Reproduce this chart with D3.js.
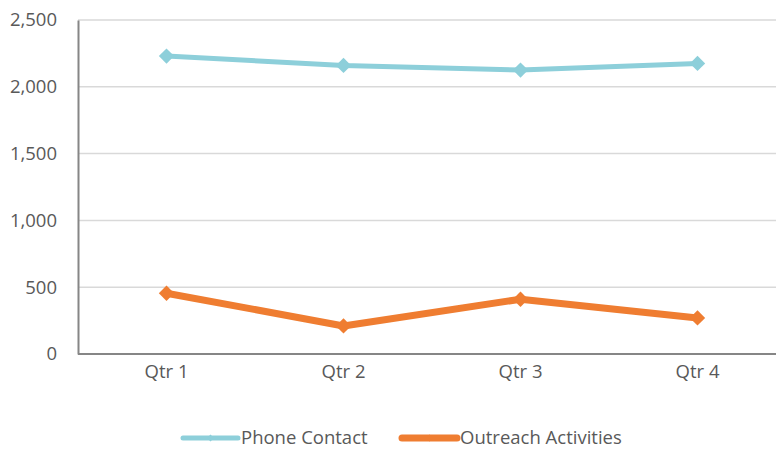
<!DOCTYPE html>
<html>
<head>
<meta charset="utf-8">
<script src="https://cdn.jsdelivr.net/npm/d3@7"></script>
<style>
  body { margin: 0; background: #fff; }
  svg { font-family: "Open Sans", sans-serif; }
</style>
</head>
<body>
<svg width="776" height="449"></svg>
<script>
// chart data
const quarters = ["Qtr 1", "Qtr 2", "Qtr 3", "Qtr 4"];
const phoneContact = [2230, 2160, 2125, 2175];
const outreachActivities = [455, 210, 410, 270];
const yTicks = [0, 500, 1000, 1500, 2000, 2500];

const series = [
  { name: "Phone Contact", values: phoneContact, color: "#8dcfda", width: 5 },
  { name: "Outreach Activities", values: outreachActivities, color: "#ef7d31", width: 7 }
];

const width = 776;
const margin = { top: 20, left: 78, bottom: 354 };
const fontSize = "18.5px";

const svg = d3.select("svg");

// X scale
const x = d3.scaleBand()
  .domain(quarters)
  .range([margin.left, margin.left + 4 * 177]);

// Y scale
const y = d3.scaleLinear()
  .domain([0, 2500])
  .range([margin.bottom, margin.top]);

// gridlines
svg.append("g")
  .selectAll("line")
  .data(yTicks.filter(d => d > 0))
  .enter().append("line")
  .attr("x1", margin.left)
  .attr("x2", width)
  .attr("y1", d => y(d))
  .attr("y2", d => y(d))
  .attr("stroke", "#d9d9d9")
  .attr("stroke-width", 1.5);

// Y axis
const yAxis = svg.append("g")
  .attr("transform", `translate(${margin.left},0)`)
  .call(d3.axisLeft(y).tickValues(yTicks).tickSize(0).tickPadding(21).tickFormat(d3.format(",")));
yAxis.select(".domain").attr("stroke", "#868686").attr("stroke-width", 2);
yAxis.selectAll("text").attr("fill", "#595959").style("font-size", fontSize)
  .style("font-family", "'Open Sans', sans-serif");

// X axis
const xAxis = svg.append("g")
  .attr("transform", `translate(0,${margin.bottom})`)
  .call(d3.axisBottom(x).tickSize(0).tickPadding(11));
xAxis.select(".domain").attr("d", `M${margin.left},0H${width}`)
  .attr("stroke", "#868686").attr("stroke-width", 2);
xAxis.selectAll("text").attr("fill", "#595959").style("font-size", fontSize)
  .style("font-family", "'Open Sans', sans-serif");

const cx = d => x(d) + x.bandwidth() / 2;

const line = d3.line()
  .x((d, i) => cx(quarters[i]))
  .y(d => y(d));

const diamond = d3.symbol().type(d3.symbolDiamond2).size(150);

series.forEach(s => {
  svg.append("path")
    .datum(s.values)
    .attr("d", line)
    .attr("fill", "none")
    .attr("stroke", s.color)
    .attr("stroke-width", s.width)
    .attr("stroke-linejoin", "round");

  svg.selectAll(null)
    .data(s.values)
    .enter().append("path")
    .attr("d", diamond)
    .attr("transform", (d, i) => `translate(${cx(quarters[i])},${y(d)})`)
    .attr("fill", s.color);
});

// legend
const legendX = [183, 402];
const legend = svg.append("g");
series.forEach((s, i) => {
  const g = legend.append("g").attr("transform", `translate(${legendX[i]},438)`);
  g.append("line")
    .attr("x1", 0).attr("x2", 55)
    .attr("stroke", s.color)
    .attr("stroke-width", s.width)
    .attr("stroke-linecap", "round");
  g.append("path")
    .attr("d", d3.symbol().type(d3.symbolDiamond2).size(30))
    .attr("transform", "translate(27.5,0)")
    .attr("fill", s.color);
  g.append("text")
    .attr("x", 58)
    .attr("y", 0)
    .attr("dy", "0.35em")
    .attr("fill", "#595959")
    .style("font-size", fontSize)
    .text(s.name);
});
</script>
</body>
</html>
